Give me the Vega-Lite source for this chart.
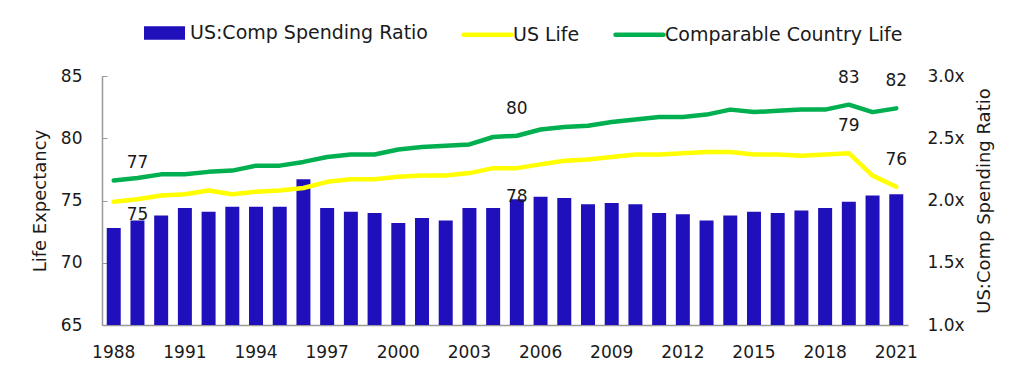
{
  "$schema": "https://vega.github.io/schema/vega-lite/v6.json",
  "width": 806,
  "height": 249,
  "autosize": {"type": "none"},
  "padding": {"left": 102, "top": 76, "right": 116, "bottom": 52},
  "background": "white",
  "config": {
    "font": "DejaVu Sans",
    "view": {"stroke": null},
    "axis": {"grid": false, "labelColor": "#1a1a1a", "titleColor": "#1a1a1a", "titleFontWeight": "normal"}
  },
  "data": {
    "values": [
      {"year": 1988, "ratio": 1.78, "us": 74.9, "comp": 76.6},
      {"year": 1989, "ratio": 1.84, "us": 75.1, "comp": 76.8},
      {"year": 1990, "ratio": 1.88, "us": 75.4, "comp": 77.1},
      {"year": 1991, "ratio": 1.94, "us": 75.5, "comp": 77.1},
      {"year": 1992, "ratio": 1.91, "us": 75.8, "comp": 77.3},
      {"year": 1993, "ratio": 1.95, "us": 75.5, "comp": 77.4},
      {"year": 1994, "ratio": 1.95, "us": 75.7, "comp": 77.8},
      {"year": 1995, "ratio": 1.95, "us": 75.8, "comp": 77.8},
      {"year": 1996, "ratio": 2.17, "us": 76.0, "comp": 78.1},
      {"year": 1997, "ratio": 1.94, "us": 76.5, "comp": 78.5},
      {"year": 1998, "ratio": 1.91, "us": 76.7, "comp": 78.7},
      {"year": 1999, "ratio": 1.90, "us": 76.7, "comp": 78.7},
      {"year": 2000, "ratio": 1.82, "us": 76.9, "comp": 79.1},
      {"year": 2001, "ratio": 1.86, "us": 77.0, "comp": 79.3},
      {"year": 2002, "ratio": 1.84, "us": 77.0, "comp": 79.4},
      {"year": 2003, "ratio": 1.94, "us": 77.2, "comp": 79.5},
      {"year": 2004, "ratio": 1.94, "us": 77.6, "comp": 80.1},
      {"year": 2005, "ratio": 2.01, "us": 77.6, "comp": 80.2},
      {"year": 2006, "ratio": 2.03, "us": 77.9, "comp": 80.7},
      {"year": 2007, "ratio": 2.02, "us": 78.2, "comp": 80.9},
      {"year": 2008, "ratio": 1.97, "us": 78.3, "comp": 81.0},
      {"year": 2009, "ratio": 1.98, "us": 78.5, "comp": 81.3},
      {"year": 2010, "ratio": 1.97, "us": 78.7, "comp": 81.5},
      {"year": 2011, "ratio": 1.90, "us": 78.7, "comp": 81.7},
      {"year": 2012, "ratio": 1.89, "us": 78.8, "comp": 81.7},
      {"year": 2013, "ratio": 1.84, "us": 78.9, "comp": 81.9},
      {"year": 2014, "ratio": 1.88, "us": 78.9, "comp": 82.3},
      {"year": 2015, "ratio": 1.91, "us": 78.7, "comp": 82.1},
      {"year": 2016, "ratio": 1.90, "us": 78.7, "comp": 82.2},
      {"year": 2017, "ratio": 1.92, "us": 78.6, "comp": 82.3},
      {"year": 2018, "ratio": 1.94, "us": 78.7, "comp": 82.3},
      {"year": 2019, "ratio": 1.99, "us": 78.8, "comp": 82.7},
      {"year": 2020, "ratio": 2.04, "us": 77.0, "comp": 82.1},
      {"year": 2021, "ratio": 2.05, "us": 76.1, "comp": 82.4}
    ]
  },
  "encoding": {
    "x": {
      "field": "year",
      "type": "ordinal",
      "scale": {"paddingInner": 0.41, "paddingOuter": 0.2},
      "axis": {
        "title": null,
        "values": [1988, 1991, 1994, 1997, 2000, 2003, 2006, 2009, 2012, 2015, 2018, 2021],
        "labelAngle": 0,
        "ticks": false,
        "labelPadding": 19,
        "labelFontSize": 17,
        "domainColor": "#999999",
        "domainWidth": 1.5
      }
    }
  },
  "layer": [
    {
      "mark": {"type": "bar", "color": "#2010BC"},
      "encoding": {
        "y": {
          "field": "ratio",
          "type": "quantitative",
          "scale": {"domain": [1, 3], "zero": false, "nice": false},
          "axis": {
            "orient": "right",
            "title": "US:Comp Spending Ratio",
            "titleFontSize": 18,
            "titleAngle": 270,
            "titlePadding": 29,
            "values": [1, 1.5, 2, 2.5, 3],
            "labelExpr": "format(datum.value, '.1f') + 'x'",
            "labelFontSize": 17,
            "labelPadding": 19,
            "ticks": false,
            "domain": false
          }
        },
        "y2": {"datum": 1},
        "color": {
          "datum": "US:Comp Spending Ratio",
          "scale": {
            "domain": ["US:Comp Spending Ratio", "US Life", "Comparable Country Life"],
            "range": ["#2010BC", "#FFFF00", "#00B050"]
          },
          "legend": {
            "title": null,
            "orient": "none",
            "direction": "horizontal",
            "legendX": 36,
            "legendY": -70,
            "padding": 0,
            "labelFontSize": 19,
            "labelLimit": 0,
            "labelColor": "#1a1a1a",
            "labelOffset": -1,
            "columnPadding": 26,
            "symbolSize": 2304,
            "encode": {
              "symbols": {
                "update": {
                  "shape": {"signal": "datum.value === 'US:Comp Spending Ratio' ? 'M-0.76,-0.19H0.76V0.19H-0.76Z' : 'stroke'"},
                  "fill": {"signal": "datum.value === 'US:Comp Spending Ratio' ? '#2010BC' : 'transparent'"},
                  "stroke": {"signal": "datum.value === 'US Life' ? '#FFFF00' : datum.value === 'Comparable Country Life' ? '#00B050' : 'transparent'"},
                  "strokeWidth": {"value": 4.5},
                  "strokeCap": {"value": "round"},
                  "opacity": {"value": 1}
                }
              }
            }
          }
        }
      }
    },
    {
      "encoding": {
        "y": {
          "type": "quantitative",
          "scale": {"domain": [65, 85], "zero": false, "nice": false}
        }
      },
      "layer": [
        {
          "mark": {"type": "line", "strokeWidth": 4.5, "strokeCap": "round", "strokeJoin": "round"},
          "encoding": {
            "y": {
              "field": "us",
              "type": "quantitative",
              "axis": {
                "orient": "left",
                "title": "Life Expectancy",
                "titleFontSize": 18,
                "titlePadding": 11,
                "values": [65, 70, 75, 80, 85],
                "labelFontSize": 17,
                "tickSize": -5,
                "tickColor": "#999999",
                "labelPadding": 25,
                "domainColor": "#999999",
                "domainWidth": 1.5
              }
            },
            "color": {"datum": "US Life"}
          }
        },
        {
          "mark": {"type": "line", "strokeWidth": 4.5, "strokeCap": "round", "strokeJoin": "round"},
          "encoding": {
            "y": {"field": "comp", "type": "quantitative"},
            "color": {"datum": "Comparable Country Life"}
          }
        },
        {
          "transform": [{"filter": "datum.year == 1989"}],
          "mark": {"type": "text", "fontSize": 17, "color": "#1a1a1a", "dy": -15, "baseline": "middle"},
          "encoding": {"y": {"field": "comp", "type": "quantitative"}, "text": {"field": "comp", "format": ".0f"}}
        },
        {
          "transform": [{"filter": "datum.year == 2005 || datum.year == 2019 || datum.year == 2021"}],
          "mark": {"type": "text", "fontSize": 17, "color": "#1a1a1a", "dy": -27, "baseline": "middle"},
          "encoding": {"y": {"field": "comp", "type": "quantitative"}, "text": {"field": "comp", "format": ".0f"}}
        },
        {
          "transform": [{"filter": "datum.year == 1989"}],
          "mark": {"type": "text", "fontSize": 17, "color": "#1a1a1a", "dy": 16, "baseline": "middle"},
          "encoding": {"y": {"field": "us", "type": "quantitative"}, "text": {"field": "us", "format": ".0f"}}
        },
        {
          "transform": [{"filter": "datum.year == 2005"}],
          "mark": {"type": "text", "fontSize": 17, "color": "#1a1a1a", "dy": 29, "baseline": "middle"},
          "encoding": {"y": {"field": "us", "type": "quantitative"}, "text": {"field": "us", "format": ".0f"}}
        },
        {
          "transform": [{"filter": "datum.year == 2019 || datum.year == 2021"}],
          "mark": {"type": "text", "fontSize": 17, "color": "#1a1a1a", "dy": -27, "baseline": "middle"},
          "encoding": {"y": {"field": "us", "type": "quantitative"}, "text": {"field": "us", "format": ".0f"}}
        }
      ]
    }
  ],
  "resolve": {"scale": {"y": "independent"}}
}
